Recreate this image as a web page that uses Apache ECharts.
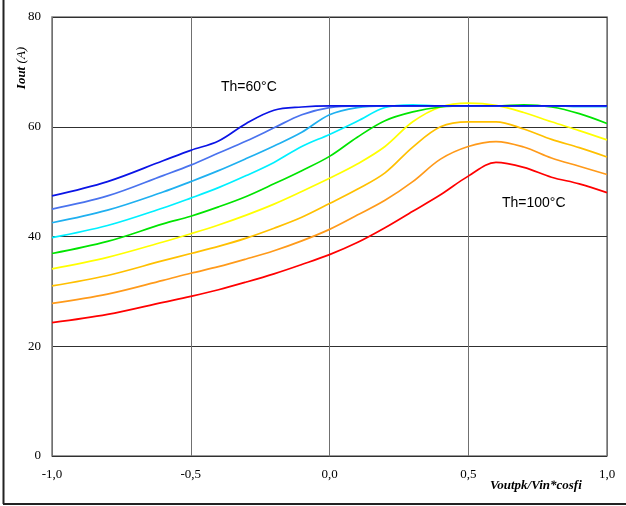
<!DOCTYPE html>
<html>
<head>
<meta charset="utf-8">
<script src="https://cdn.jsdelivr.net/npm/echarts@6/dist/echarts.min.js"></script>
<style>html,body{margin:0;padding:0;background:#fff}#c{width:626px;height:506px}</style>
</head>
<body>
<div id="c"></div>
<script>
var xValues = [-1, -0.8, -0.6, -0.5, -0.4, -0.3, -0.2, -0.1, 0, 0.1, 0.2, 0.3, 0.4, 0.5, 0.6, 0.7, 0.8, 0.9, 1.0];
var th60  = [47.4, 50.0, 53.8, 55.7, 57.4, 60.6, 63.0, 63.6, 63.8, 63.8, 63.8, 63.8, 63.8, 63.8, 63.8, 63.8, 63.8, 63.8, 63.8];
var th65  = [45.0, 47.4, 51.1, 53.0, 55.2, 57.4, 59.8, 62.2, 63.5, 63.8, 63.8, 63.8, 63.8, 63.8, 63.8, 63.8, 63.8, 63.8, 63.8];
var th70  = [42.5, 44.8, 48.1, 50.0, 52.0, 54.2, 56.5, 59.0, 62.2, 63.5, 63.8, 63.8, 63.8, 63.8, 63.8, 63.8, 63.8, 63.7, 63.7];
var th75  = [39.8, 42.0, 45.2, 47.0, 48.9, 51.1, 53.5, 56.4, 58.6, 61.0, 63.5, 64.0, 63.8, 63.8, 63.8, 63.8, 63.8, 63.7, 63.7];
var th80  = [36.9, 39.1, 42.3, 43.7, 45.4, 47.3, 49.6, 52.0, 54.6, 58.1, 61.1, 62.7, 63.6, 63.8, 63.8, 64.0, 63.6, 62.4, 60.6];
var th85  = [34.1, 36.2, 39.0, 40.5, 42.1, 43.9, 45.9, 48.2, 50.6, 53.2, 56.4, 60.9, 63.6, 64.3, 63.9, 62.6, 60.9, 59.3, 57.6];
var th90  = [31.0, 32.9, 35.6, 36.9, 38.2, 39.7, 41.5, 43.5, 46.0, 48.6, 51.6, 56.3, 60.0, 60.9, 60.9, 59.6, 57.7, 56.2, 54.5];
var th95  = [27.8, 29.5, 32.0, 33.3, 34.5, 35.9, 37.4, 39.2, 41.3, 43.9, 46.6, 50.0, 54.1, 56.4, 57.3, 56.3, 54.3, 52.8, 51.3];
var th100 = [24.3, 25.8, 28.0, 29.1, 30.3, 31.7, 33.2, 34.9, 36.7, 38.9, 41.6, 44.6, 47.6, 51.0, 53.5, 52.6, 50.8, 49.6, 48.0];
var seriesNames = ['Th=60°C','Th=65°C','Th=70°C','Th=75°C','Th=80°C','Th=85°C','Th=90°C','Th=95°C','Th=100°C'];
var seriesColors = ['#0a14e6','#4a73ee','#1fb0f0','#00f0ff','#00e400','#ffff00','#ffc000','#ff9a1a','#ff0000'];
var allData = [th60, th65, th70, th75, th80, th85, th90, th95, th100];
var xTicks = {'-1': '-1,0', '-0.5': '-0,5', '0': '0,0', '0.5': '0,5', '1': '1,0'};

var chart = echarts.init(document.getElementById('c'), null, {renderer: 'canvas'});
var series = allData.map(function (d, i) {
  return {
    name: seriesNames[i],
    type: 'line',
    data: xValues.map(function (x, j) { return [x, d[j]]; }),
    smooth: 0.35,
    symbol: 'none',
    lineStyle: {color: seriesColors[i], width: 1.7},
    itemStyle: {color: seriesColors[i]},
    z: 10 - i
  };
});
chart.setOption({
  animation: false,
  backgroundColor: '#fff',
  grid: {left: 52, right: 19, top: 17, bottom: 50, show: true, borderColor: '#7a7a7a', borderWidth: 1.5},
  xAxis: {
    type: 'value', min: -1, max: 1, interval: 0.5,
    axisLine: {show: false}, axisTick: {show: false},
    splitLine: {show: true, lineStyle: {color: '#707070', width: 1}},
    axisLabel: {
      margin: 12, color: '#000', fontFamily: 'Liberation Serif', fontSize: 13,
      formatter: function (v) { return xTicks[String(v)] || String(v).replace('.', ','); }
    }
  },
  yAxis: {
    type: 'value', min: 0, max: 80, interval: 20,
    axisLine: {show: false}, axisTick: {show: false},
    splitLine: {show: true, lineStyle: {color: '#303030', width: 1}},
    axisLabel: {margin: 11, color: '#000', fontFamily: 'Liberation Serif', fontSize: 13}
  },
  series: series,
  graphic: [
    {type: 'line', shape: {x1: 3.5, y1: 0, x2: 3.5, y2: 504}, style: {stroke: '#222', lineWidth: 2}},
    {type: 'line', shape: {x1: 3, y1: 504, x2: 626, y2: 504}, style: {stroke: '#222', lineWidth: 2}},
    {type: 'text', x: 221, y: 87, style: {text: 'Th=60°C', font: '14px "Liberation Sans"', fill: '#000', verticalAlign: 'middle'}},
    {type: 'text', x: 502, y: 203, style: {text: 'Th=100°C', font: '14px "Liberation Sans"', fill: '#000', verticalAlign: 'middle'}},
    {type: 'text', x: 490, y: 486, style: {text: 'Voutpk/Vin*cosfi', font: 'italic bold 13px "Liberation Serif"', fill: '#000', verticalAlign: 'middle'}},
    {type: 'text', x: 22, y: 68, rotation: Math.PI / 2,
      style: {text: '{b|Iout} {i|(A)}', align: 'center', verticalAlign: 'middle', fill: '#000',
        rich: {b: {font: 'italic bold 13px "Liberation Serif"'}, i: {font: 'italic 13px "Liberation Serif"'}}}}
  ]
});
</script>
</body>
</html>
